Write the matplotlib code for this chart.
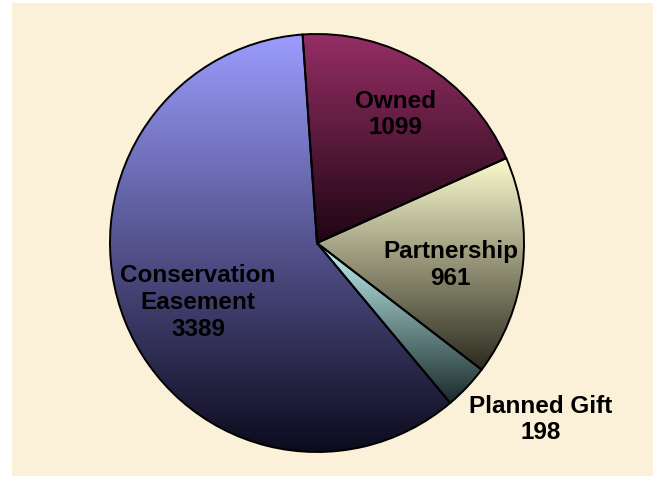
import numpy as np
import matplotlib.pyplot as plt
from matplotlib.colors import LinearSegmentedColormap

# --- Data ---
labels = ['Owned', 'Partnership', 'Planned Gift', 'Conservation\nEasement']
values = [1099, 961, 198, 3389]

# top (light) / bottom (dark) colour of each wedge's vertical gradient
top_colors = ['#962f66', '#fbfbcf', '#c4f4f4', '#9c9cff']
bottom_colors = ['#1e0512', '#2c2a1e', '#1a2a2a', '#0c0a1c']

label_pos = [(0.38, 0.62), (0.645, -0.10), (1.08, -0.84), (-0.575, -0.28)]

plt.rcParams['font.family'] = ['Liberation Sans', 'DejaVu Sans']

fig = plt.figure(figsize=(6.57, 4.81), dpi=100)
fig.patch.set_facecolor('white')

# beige panel behind everything
bg = fig.add_axes([12 / 657, 4 / 481, 641 / 657, 473 / 481], zorder=-1)
bg.set_facecolor('#fbf0d8')
bg.set_xticks([])
bg.set_yticks([])
for s in bg.spines.values():
    s.set_visible(False)

ax = fig.add_axes([110 / 657, 28 / 481, 414 / 657, 418 / 481])
ax.patch.set_alpha(0)

wedges, _ = ax.pie(values, startangle=94, counterclock=False, radius=1.0,
                   wedgeprops=dict(edgecolor='black', linewidth=1.4))
ax.set_aspect('auto')

for w, c0, c1 in zip(wedges, top_colors, bottom_colors):
    verts = w.get_path().vertices
    ymin, ymax = verts[:, 1].min(), verts[:, 1].max()
    xmin, xmax = verts[:, 0].min(), verts[:, 0].max()
    cmap = LinearSegmentedColormap.from_list('g', [c1, c0])
    grad = np.linspace(0, 1, 256).reshape(-1, 1)
    im = ax.imshow(grad, cmap=cmap, origin='lower', aspect='auto',
                   extent=(xmin, xmax, ymin, ymax), zorder=1,
                   interpolation='bilinear')
    im.set_clip_path(w)
    w.set_facecolor('none')
    w.set_zorder(2)

ax.set_aspect('auto')
ax.set_xlim(-1, 1)
ax.set_ylim(-1, 1)
ax.axis('off')

for lab, v, (x, y) in zip(labels, values, label_pos):
    ax.text(x, y, f'{lab}\n{v}', ha='center', va='center', fontsize=17.5,
            fontweight='bold', linespacing=1.2, zorder=3, clip_on=False)

fig.savefig('out.png', dpi=100)
